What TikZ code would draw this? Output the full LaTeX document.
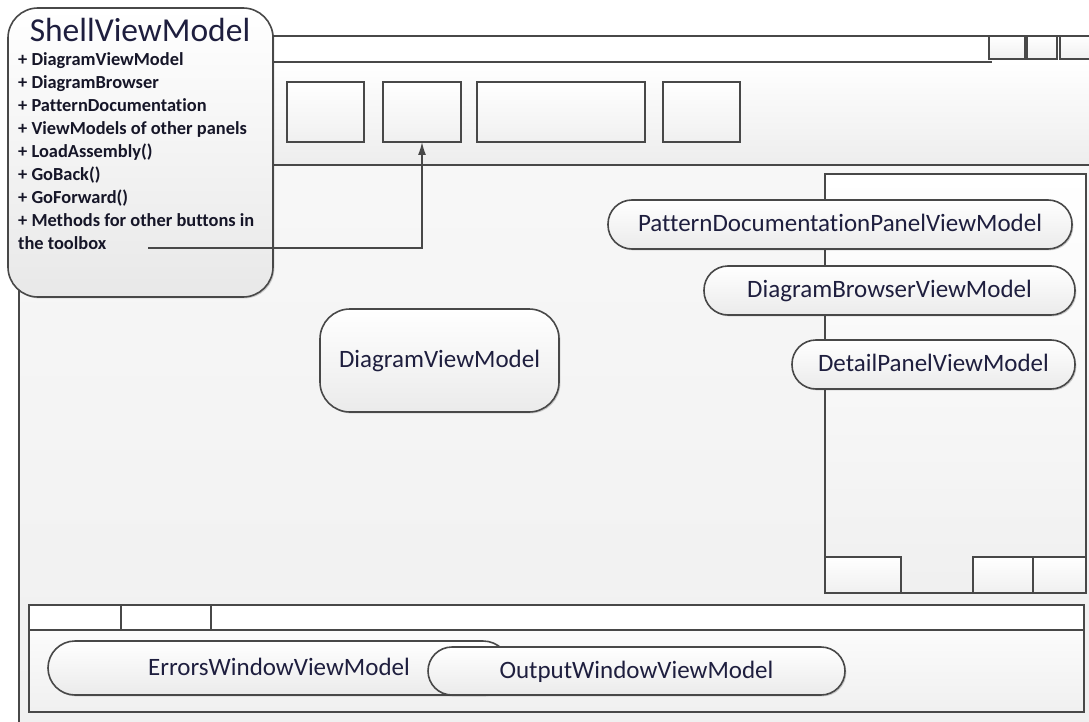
\documentclass[tikz,border=0pt]{standalone}
\usepackage{fontspec}
\setmainfont{Carlito}[Ligatures={NoCommon,NoContextual}]
\usetikzlibrary{shadows,arrows.meta}

\definecolor{edge}{RGB}{72,72,72}
\definecolor{ink}{RGB}{30,30,62}
\definecolor{memberink}{RGB}{22,22,40}

\begin{document}
\begin{tikzpicture}[x=1pt,y=-1pt,
  frame/.style={draw=edge,line width=1.6pt},
  softshadow/.style={drop shadow={shadow xshift=1.4pt,shadow yshift=-1.4pt,fill=black,opacity=0.18}},
  boxbtn/.style={frame,rectangle,inner sep=0pt,outer sep=0pt,
    top color=white,bottom color=black!6,softshadow},
  panel/.style={frame,rectangle,inner sep=0pt,outer sep=0pt,
    top color=white,bottom color=black!6,softshadow},
  tabcell/.style={frame,rectangle,inner sep=0pt,outer sep=0pt,fill=white},
  pill/.style={frame,rectangle,rounded corners=#1,inner sep=0pt,outer sep=0pt,
    top color=white,bottom color=black!8,softshadow,text=ink,
    font=\fontsize{25}{30}\selectfont,text height=16pt,text depth=2pt},
  member/.style={inner sep=0pt,text=memberink,font=\bfseries\fontsize{18.4}{22}\selectfont},
  link/.style={draw=edge,line width=1.4pt,-{Latex[length=13pt,width=8pt]}}
]
\useasboundingbox (0,0) rectangle (1089,722);
\clip (0,0) rectangle (1089,722);

% window body, title bar and toolbar strip
\shade[top color=black!3,bottom color=black!6] (19,165) rectangle (1095,730);
\fill[white] (19,36) rectangle (1095,62);
\shade[top color=white,bottom color=black!7] (19,62) rectangle (1095,165);
\draw[frame] (19,730) -- (19,36) -- (1095,36);
\draw[frame] (19,62) -- (992,62);
\draw[frame] (19,165) -- (1095,165);

% caption buttons
\node[boxbtn,minimum width=36pt,minimum height=23pt] (tb1) at (1007,47.5) {};
\node[boxbtn,minimum width=30pt,minimum height=23pt] (tb2) at (1042,47.5) {};
\node[boxbtn,minimum width=36pt,minimum height=23pt] (tb3) at (1078,47.5) {};

% toolbar buttons
\node[boxbtn,minimum width=77pt,minimum height=60pt] (b1) at (325.5,112) {};
\node[boxbtn,minimum width=78pt,minimum height=60pt] (b2) at (422,112) {};
\node[boxbtn,minimum width=168pt,minimum height=60pt] (b3) at (561,112) {};
\node[boxbtn,minimum width=77pt,minimum height=60pt] (b4) at (701.5,112) {};

% side panel with its footer buttons
\node[panel,minimum width=261pt,minimum height=419pt] (side) at (955.5,383.5) {};
\node[boxbtn,minimum width=76pt,minimum height=36pt] (sb1) at (863,575) {};
\node[boxbtn,minimum width=60pt,minimum height=36pt] (sb2) at (1003,575) {};
\node[boxbtn,minimum width=53pt,minimum height=36pt] (sb3) at (1059.5,575) {};

% side panel view models
\node[pill=24pt,minimum width=464pt,minimum height=49pt] (pattern) at (840,224.5) {PatternDocumentationPanelViewModel};
\node[pill=24pt,minimum width=371pt,minimum height=49pt] (browser) at (889.5,290.5) {DiagramBrowserViewModel};
\node[pill=24pt,minimum width=283pt,minimum height=49pt] (detail) at (933.5,364.5) {DetailPanelViewModel};

% central diagram view model
\node[pill=30pt,minimum width=239pt,minimum height=103pt] (diagram) at (439.5,360.5) {DiagramViewModel};

% bottom panel with tab strip
\node[panel,minimum width=1055pt,minimum height=107pt] (bottom) at (556.5,658.5) {};
\node[tabcell,minimum width=92pt,minimum height=25pt] (tab1) at (75,617.5) {};
\node[tabcell,minimum width=90pt,minimum height=25pt] (tab2) at (166,617.5) {};
\node[tabcell,minimum width=873pt,minimum height=25pt] (tab3) at (647.5,617.5) {};

\node[pill=27pt,minimum width=462pt,minimum height=54pt] (errors) at (279,668) {ErrorsWindowViewModel};
\node[pill=24pt,minimum width=417pt,minimum height=48pt] (output) at (636.5,671) {OutputWindowViewModel};

% shell view model
\node[frame,rectangle,rounded corners=30pt,inner sep=0pt,outer sep=0pt,
      top color=white,bottom color=black!9,softshadow,
      minimum width=265pt,minimum height=289pt] (shell) at (140.5,152.5) {};
\node[inner sep=0pt,anchor=base,text=ink,font=\fontsize{33.5}{40}\selectfont] (shelltitle) at (140,42) {ShellViewModel};
\foreach \t [count=\i from 0] in {{+ DiagramViewModel},{+ DiagramBrowser},{+ PatternDocumentation},
    {+ ViewModels of other panels},{+ LoadAssembly()},{+ GoBack()},{+ GoForward()},
    {+ Methods for other buttons in},{the toolbox}}
  \node[member,anchor=base west] (m\i) at (18,66+22.9*\i) {\t};

% binding of toolbar commands
\coordinate (cmd) at (148,248);
\draw[link] (cmd) -| (b2.south);
\end{tikzpicture}
\end{document}
